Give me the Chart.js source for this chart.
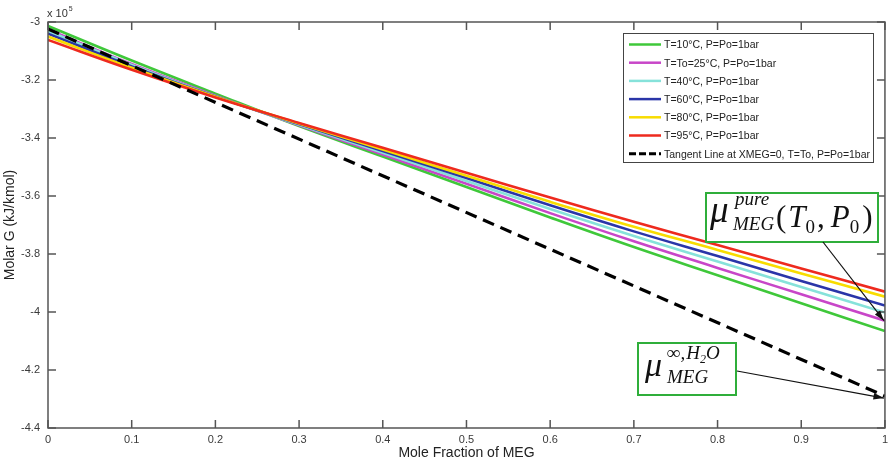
<!DOCTYPE html>
<html>
<head>
<meta charset="utf-8">
<script src="https://cdn.jsdelivr.net/npm/chart.js@4.4.1/dist/chart.umd.min.js"></script>
<style>
    html, body { margin: 0; padding: 0; background: #ffffff; }
    #wrap { width: 893px; height: 464px; }
</style>
</head>
<body>
<div id="wrap"><canvas id="gibbsChart" width="893" height="464"></canvas></div>
<script>
// Mole fraction of MEG
const xMEG = [0, 0.1, 0.2, 0.3, 0.4, 0.5, 0.6, 0.7, 0.8, 0.9, 1.0];

// Molar G (x 10^5 kJ/kmol)
const g10 = [-3.014, -3.133, -3.247, -3.359, -3.464, -3.569, -3.674, -3.776, -3.873, -3.970, -4.066];
const g25 = [-3.026, -3.145, -3.254, -3.356, -3.457, -3.558, -3.659, -3.756, -3.848, -3.939, -4.030];
const g40 = [-3.031, -3.148, -3.256, -3.354, -3.451, -3.548, -3.645, -3.738, -3.826, -3.914, -4.002];
const g60 = [-3.040, -3.153, -3.257, -3.352, -3.445, -3.538, -3.632, -3.722, -3.807, -3.893, -3.978];
const g80 = [-3.050, -3.158, -3.258, -3.350, -3.440, -3.530, -3.620, -3.706, -3.786, -3.867, -3.947];
const g95 = [-3.062, -3.165, -3.260, -3.348, -3.434, -3.520, -3.605, -3.689, -3.769, -3.850, -3.930];

// tangent line at XMEG = 0
const tangentX = [0, 1];
const tangentG = [-3.024, -4.290];

const seriesLabels = [
    'T=10°C, P=Po=1bar',
    'T=To=25°C, P=Po=1bar',
    'T=40°C, P=Po=1bar',
    'T=60°C, P=Po=1bar',
    'T=80°C, P=Po=1bar',
    'T=95°C, P=Po=1bar',
    'Tangent Line at XMEG=0, T=To, P=Po=1bar'
];
const seriesColors = ['#3fc83a', '#c846c8', '#86e2da', '#2a35a8', '#f8dc00', '#ee2a1e', '#000000'];

const xTickLabels = ['0', '0.1', '0.2', '0.3', '0.4', '0.5', '0.6', '0.7', '0.8', '0.9', '1'];
const yTickLabels = ['-4.4', '-4.2', '-4', '-3.8', '-3.6', '-3.4', '-3.2', '-3'];

const FONT = "'Liberation Sans', Arial, sans-serif";
const SERIF = "'Liberation Serif', 'Times New Roman', serif";

function toPoints(xs, ys) {
    return xs.map((x, i) => ({ x: x, y: ys[i] }));
}

// write text pieces one after another: [text, font, dy, gap]
function writeRun(ctx, x, y, pieces) {
    let cx = x;
    pieces.forEach(p => {
        ctx.font = p[1];
        ctx.fillText(p[0], cx, y + (p[2] || 0));
        cx += ctx.measureText(p[0]).width + (p[3] || 0);
    });
}

// matlab style box with inward ticks, exponent, legend and annotations
const matlabBox = {
    id: 'matlabBox',
    afterDraw(chart) {
        const ctx = chart.ctx;
        const a = chart.chartArea;
        const xs = chart.scales.x;
        const ys = chart.scales.y;
        ctx.save();
        ctx.strokeStyle = '#555555';
        ctx.lineWidth = 1.5;
        ctx.strokeRect(a.left, a.top, a.right - a.left, a.bottom - a.top);
        ctx.beginPath();
        xTickLabels.forEach(t => {
            const px = xs.getPixelForValue(parseFloat(t));
            ctx.moveTo(px, a.bottom); ctx.lineTo(px, a.bottom - 8);
            ctx.moveTo(px, a.top); ctx.lineTo(px, a.top + 8);
        });
        yTickLabels.forEach(t => {
            const py = ys.getPixelForValue(parseFloat(t));
            ctx.moveTo(a.left, py); ctx.lineTo(a.left + 8, py);
            ctx.moveTo(a.right, py); ctx.lineTo(a.right - 8, py);
        });
        ctx.stroke();

        // exponent
        ctx.fillStyle = '#333333';
        ctx.textBaseline = 'alphabetic';
        ctx.textAlign = 'left';
        ctx.font = '11px ' + FONT;
        ctx.fillText('x 10', a.left - 1, 17);
        const w10 = ctx.measureText('x 10').width;
        ctx.font = '7px ' + FONT;
        ctx.fillText('5', a.left + w10, 11);

        // legend
        const lx = 623, ly = 33, lw = 250, lh = 129;
        ctx.fillStyle = '#ffffff';
        ctx.fillRect(lx, ly, lw, lh);
        ctx.strokeStyle = '#444444';
        ctx.lineWidth = 1;
        ctx.strokeRect(lx + 0.5, ly + 0.5, lw, lh);
        ctx.font = '10.5px ' + FONT;
        ctx.textBaseline = 'middle';
        seriesLabels.forEach((lab, i) => {
            const yy = 44.5 + i * 18.2;
            ctx.strokeStyle = seriesColors[i];
            ctx.lineWidth = i === 6 ? 3 : 2.5;
            ctx.setLineDash(i === 6 ? [7, 3] : []);
            ctx.beginPath();
            ctx.moveTo(629, yy); ctx.lineTo(661, yy);
            ctx.stroke();
            ctx.setLineDash([]);
            ctx.fillStyle = '#222222';
            ctx.fillText(lab, 664, yy + 1);
        });

        // annotation boxes
        ctx.strokeStyle = '#2fae3a';
        ctx.lineWidth = 2;
        ctx.fillStyle = '#ffffff';
        ctx.fillRect(706, 193, 172, 49);
        ctx.strokeRect(706, 193, 172, 49);
        ctx.fillRect(638, 343, 98, 52);
        ctx.strokeRect(638, 343, 98, 52);

        ctx.fillStyle = '#111111';
        ctx.textBaseline = 'alphabetic';
        ctx.font = 'italic 37px ' + SERIF;
        ctx.fillText('μ', 710, 222);
        ctx.font = 'italic 19px ' + SERIF;
        ctx.fillText('pure', 735, 205);
        ctx.fillText('MEG', 733, 230);
        const big = '31px ' + SERIF, bigI = 'italic 31px ' + SERIF, sub = '19px ' + SERIF;
        writeRun(ctx, 776, 227, [
            ['(', big, 0, 2], ['T', bigI, 0, 0], ['0', sub, 6, 2], [',', big, 0, 6],
            ['P', bigI, 0, 0], ['0', sub, 6, 3], [')', big, 0, 0]
        ]);

        ctx.font = 'italic 34px ' + SERIF;
        ctx.fillText('μ', 645, 376);
        writeRun(ctx, 667, 359, [
            ['∞', 'italic 19px ' + SERIF, 0, 0], [',', 'italic 19px ' + SERIF, 0, 1],
            ['H', 'italic 19px ' + SERIF, 0, 0], ['2', 'italic 12px ' + SERIF, 4, 0],
            ['O', 'italic 19px ' + SERIF, 0, 0]
        ]);
        ctx.font = 'italic 19px ' + SERIF;
        ctx.fillText('MEG', 667, 383);

        // arrows
        const arrow = (x1, y1, x2, y2) => {
            const ang = Math.atan2(y2 - y1, x2 - x1);
            ctx.strokeStyle = '#111111';
            ctx.fillStyle = '#111111';
            ctx.lineWidth = 1.2;
            ctx.beginPath();
            ctx.moveTo(x1, y1); ctx.lineTo(x2, y2);
            ctx.stroke();
            ctx.beginPath();
            ctx.moveTo(x2, y2);
            ctx.lineTo(x2 - 11 * Math.cos(ang - 0.3), y2 - 11 * Math.sin(ang - 0.3));
            ctx.lineTo(x2 - 11 * Math.cos(ang + 0.3), y2 - 11 * Math.sin(ang + 0.3));
            ctx.closePath();
            ctx.fill();
        };
        arrow(823, 242, xs.getPixelForValue(1) - 1, ys.getPixelForValue(g25[10]));
        arrow(737, 371, xs.getPixelForValue(1) - 1, ys.getPixelForValue(tangentG[1]) + 2);
        ctx.restore();
    }
};

const curves = [g10, g25, g40, g60, g80, g95];
const datasets = curves.map((g, i) => ({
    label: seriesLabels[i],
    data: toPoints(xMEG, g),
    borderColor: seriesColors[i],
    borderWidth: 2.6,
    pointRadius: 0,
    tension: 0.4,
    fill: false,
    order: 6 - i
}));
datasets.push({
    label: seriesLabels[6],
    data: toPoints(tangentX, tangentG),
    borderColor: seriesColors[6],
    borderWidth: 3.2,
    borderDash: [12, 7],
    pointRadius: 0,
    fill: false,
    order: -1
});

const ctx = document.getElementById('gibbsChart').getContext('2d');
new Chart(ctx, {
    type: 'line',
    data: { datasets: datasets },
    options: {
        responsive: false,
        animation: false,
        layout: { padding: { top: 22, right: 5, left: 0, bottom: 0 } },
        plugins: { legend: { display: false }, tooltip: { enabled: false } },
        scales: {
            x: {
                type: 'linear',
                min: 0,
                max: 1,
                afterBuildTicks: s => { s.ticks = xTickLabels.map(t => ({ value: parseFloat(t) })); },
                afterFit: s => { s.height = 36; },
                grid: { display: false, drawTicks: false },
                border: { display: false },
                ticks: {
                    padding: 5,
                    color: '#3a3a3a',
                    font: { family: FONT, size: 11 },
                    maxRotation: 0,
                    callback: (v, i) => xTickLabels[i]
                },
                title: {
                    display: true,
                    text: 'Mole Fraction of MEG',
                    color: '#222222',
                    font: { family: FONT, size: 14 },
                    padding: { top: 0, bottom: 2 }
                }
            },
            y: {
                type: 'linear',
                min: -4.4,
                max: -3,
                afterBuildTicks: s => { s.ticks = yTickLabels.map(t => ({ value: parseFloat(t) })); },
                afterFit: s => { s.width = 48; },
                grid: { display: false, drawTicks: false },
                border: { display: false },
                ticks: {
                    padding: 8,
                    color: '#3a3a3a',
                    font: { family: FONT, size: 11 },
                    callback: (v, i) => yTickLabels[i]
                },
                title: {
                    display: true,
                    text: 'Molar G (kJ/kmol)',
                    color: '#222222',
                    font: { family: FONT, size: 14 },
                    padding: { top: 2, bottom: 0 }
                }
            }
        }
    },
    plugins: [matlabBox]
});
</script>
</body>
</html>
